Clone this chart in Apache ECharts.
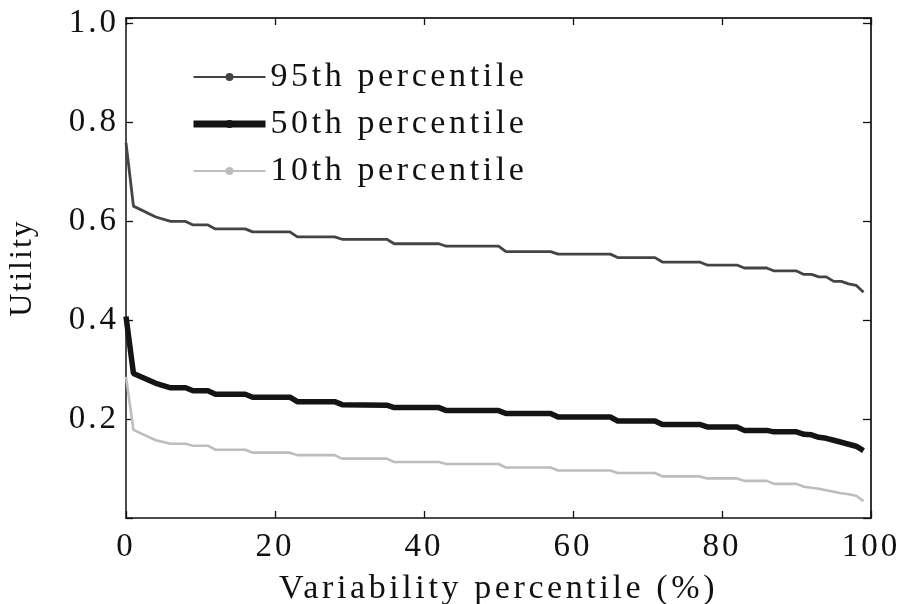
<!DOCTYPE html>
<html><head><meta charset="utf-8">
<script src="https://cdn.jsdelivr.net/npm/echarts@6/dist/echarts.min.js"></script>
<style>html,body{margin:0;padding:0;background:#fff}#c{width:904px;height:604px}</style>
</head><body><div id="c"></div><script>
// Breakpoints (x = variability percentile, y = utility)
const x95 = [0,1,4,6,8,9,11,12,16,17,22,23,28,29,35,36,42,43,50,51,57,58,65,66,71,72,77,78,82,83,86,87,90,91,92,93,94,95,96,97,98,99];
const y95 = [0.758,0.630,0.608,0.599,0.599,0.592,0.592,0.584,0.584,0.578,0.578,0.568,0.568,0.563,0.563,0.554,0.554,0.549,0.549,0.538,0.538,0.533,0.533,0.526,0.526,0.517,0.517,0.511,0.511,0.505,0.505,0.499,0.499,0.492,0.492,0.487,0.487,0.478,0.478,0.473,0.470,0.456];
const x50 = [0,1,4,6,8,9,11,12,16,17,22,23,28,29,35,36,42,43,50,51,57,58,65,66,71,72,77,78,82,83,86,87,90,91,92,93,94,95,96,97,98,99];
const y50 = [0.407,0.292,0.272,0.263,0.263,0.257,0.257,0.250,0.250,0.244,0.244,0.235,0.235,0.229,0.228,0.223,0.223,0.217,0.217,0.211,0.211,0.204,0.204,0.196,0.196,0.189,0.189,0.184,0.184,0.177,0.177,0.174,0.174,0.169,0.168,0.163,0.161,0.157,0.153,0.149,0.145,0.136];
const x10 = [0,1,4,6,8,9,11,12,16,17,22,23,28,29,35,36,42,43,50,51,57,58,65,66,71,72,77,78,82,83,86,87,90,91,92,93,94,95,96,97,98,99];
const y10 = [0.285,0.178,0.157,0.150,0.150,0.146,0.146,0.138,0.138,0.132,0.132,0.127,0.127,0.120,0.120,0.113,0.113,0.109,0.109,0.102,0.102,0.096,0.096,0.091,0.091,0.084,0.084,0.080,0.080,0.075,0.075,0.069,0.069,0.063,0.061,0.059,0.056,0.053,0.050,0.048,0.045,0.034];
const seriesNames = ['95th percentile','50th percentile','10th percentile'];
const xTicks = [0,20,40,60,80,100];
const yTicks = [0.2,0.4,0.6,0.8,1.0];

// Typographic letter spacing (the reference typeface is widely tracked)
(function () {
  const P = CanvasRenderingContext2D.prototype;
  const spacingFor = f => {
    f = f || '';
    if (/(^|\s)34px/.test(f)) return '3.6px';
    if (/(^|\s)33px/.test(f)) return '3px';
    if (/(^|\s)32px/.test(f)) return '2px';
    return '0px';
  };
  const of = P.fillText, om = P.measureText;
  if ('letterSpacing' in P) {
    P.fillText = function () { this.letterSpacing = spacingFor(this.font); return of.apply(this, arguments); };
    P.measureText = function () { this.letterSpacing = spacingFor(this.font); return om.apply(this, arguments); };
  }
})();

const FONT = 'Liberation Serif';
const pair = (xs, ys) => xs.map((x, i) => [x, ys[i]]);
const isTick = (arr, v) => arr.some(t => Math.abs(t - v) < 1e-6);

const chart = echarts.init(document.getElementById('c'), null, {renderer: 'canvas'});
const axisTxt = {fontFamily: FONT, fontSize: 33, color: '#111'};
chart.setOption({
  backgroundColor: '#fff',
  animation: false,
  grid: {left: 126, right: 33, top: 18, bottom: 86, containLabel: false, outerBoundsMode: 'none'},
  legend: {
    orient: 'vertical', left: 190, top: 57, padding: 0,
    itemWidth: 72, itemHeight: 10, itemGap: 7,
    textStyle: {fontFamily: FONT, fontSize: 34, color: '#111', lineHeight: 40},
    data: [
      {name: seriesNames[0]},
      {name: seriesNames[1], lineStyle: {width: 7}},
      {name: seriesNames[2]}
    ]
  },
  xAxis: [{
    type: 'value', min: 0, max: 100, interval: 20, position: 'bottom',
    name: 'Variability percentile (%)', nameLocation: 'middle', nameGap: 44,
    nameTextStyle: {fontFamily: FONT, fontSize: 34, color: '#111'},
    axisLine: {show: true, onZero: false, lineStyle: {color: '#111', width: 1.5}},
    axisTick: {show: true, inside: true, length: 7, lineStyle: {color: '#111', width: 1.3}},
    axisLabel: Object.assign({margin: 11, formatter: v => isTick(xTicks, v) ? String(v) : ''}, axisTxt),
    splitLine: {show: false}
  }, {
    type: 'value', min: 0, max: 100, interval: 20, position: 'top',
    axisLine: {show: true, onZero: false, lineStyle: {color: '#333', width: 2}},
    axisTick: {show: true, inside: true, length: 7, lineStyle: {color: '#111', width: 1.3}},
    axisLabel: {show: false}, splitLine: {show: false}
  }],
  yAxis: [{
    type: 'value', min: 0, max: 1.01, interval: 0.2, position: 'left',
    name: 'Utility', nameLocation: 'middle', nameGap: 86, nameRotate: 90,
    nameTextStyle: {fontFamily: FONT, fontSize: 32, color: '#111'},
    axisLine: {show: true, onZero: false, lineStyle: {color: '#111', width: 1.5}},
    axisTick: {show: true, inside: true, length: 7, lineStyle: {color: '#111', width: 1.3}},
    axisLabel: Object.assign({margin: 7, formatter: v => (v > 0.01 && isTick(yTicks, v)) ? v.toFixed(1) : ''}, axisTxt),
    splitLine: {show: false}
  }, {
    type: 'value', min: 0, max: 1.01, interval: 0.2, position: 'right',
    axisLine: {show: true, onZero: false, lineStyle: {color: '#333', width: 2}},
    axisTick: {show: true, inside: true, length: 8, lineStyle: {color: '#111', width: 1.3}},
    axisLabel: {show: false}, splitLine: {show: false}
  }],
  series: [
    {name: seriesNames[2], type: 'line', data: pair(x10, y10), symbol: 'circle', symbolSize: 8, showSymbol: false,
     lineStyle: {color: '#bdbdbd', width: 2.6}, itemStyle: {color: '#bdbdbd'}, z: 2},
    {name: seriesNames[1], type: 'line', data: pair(x50, y50), symbol: 'circle', symbolSize: 6, showSymbol: false,
     lineStyle: {color: '#141414', width: 5.5}, itemStyle: {color: '#141414'}, z: 3},
    {name: seriesNames[0], type: 'line', data: pair(x95, y95), symbol: 'circle', symbolSize: 8, showSymbol: false,
     lineStyle: {color: '#444444', width: 2.8}, itemStyle: {color: '#444444'}, z: 4}
  ]
});
</script></body></html>
